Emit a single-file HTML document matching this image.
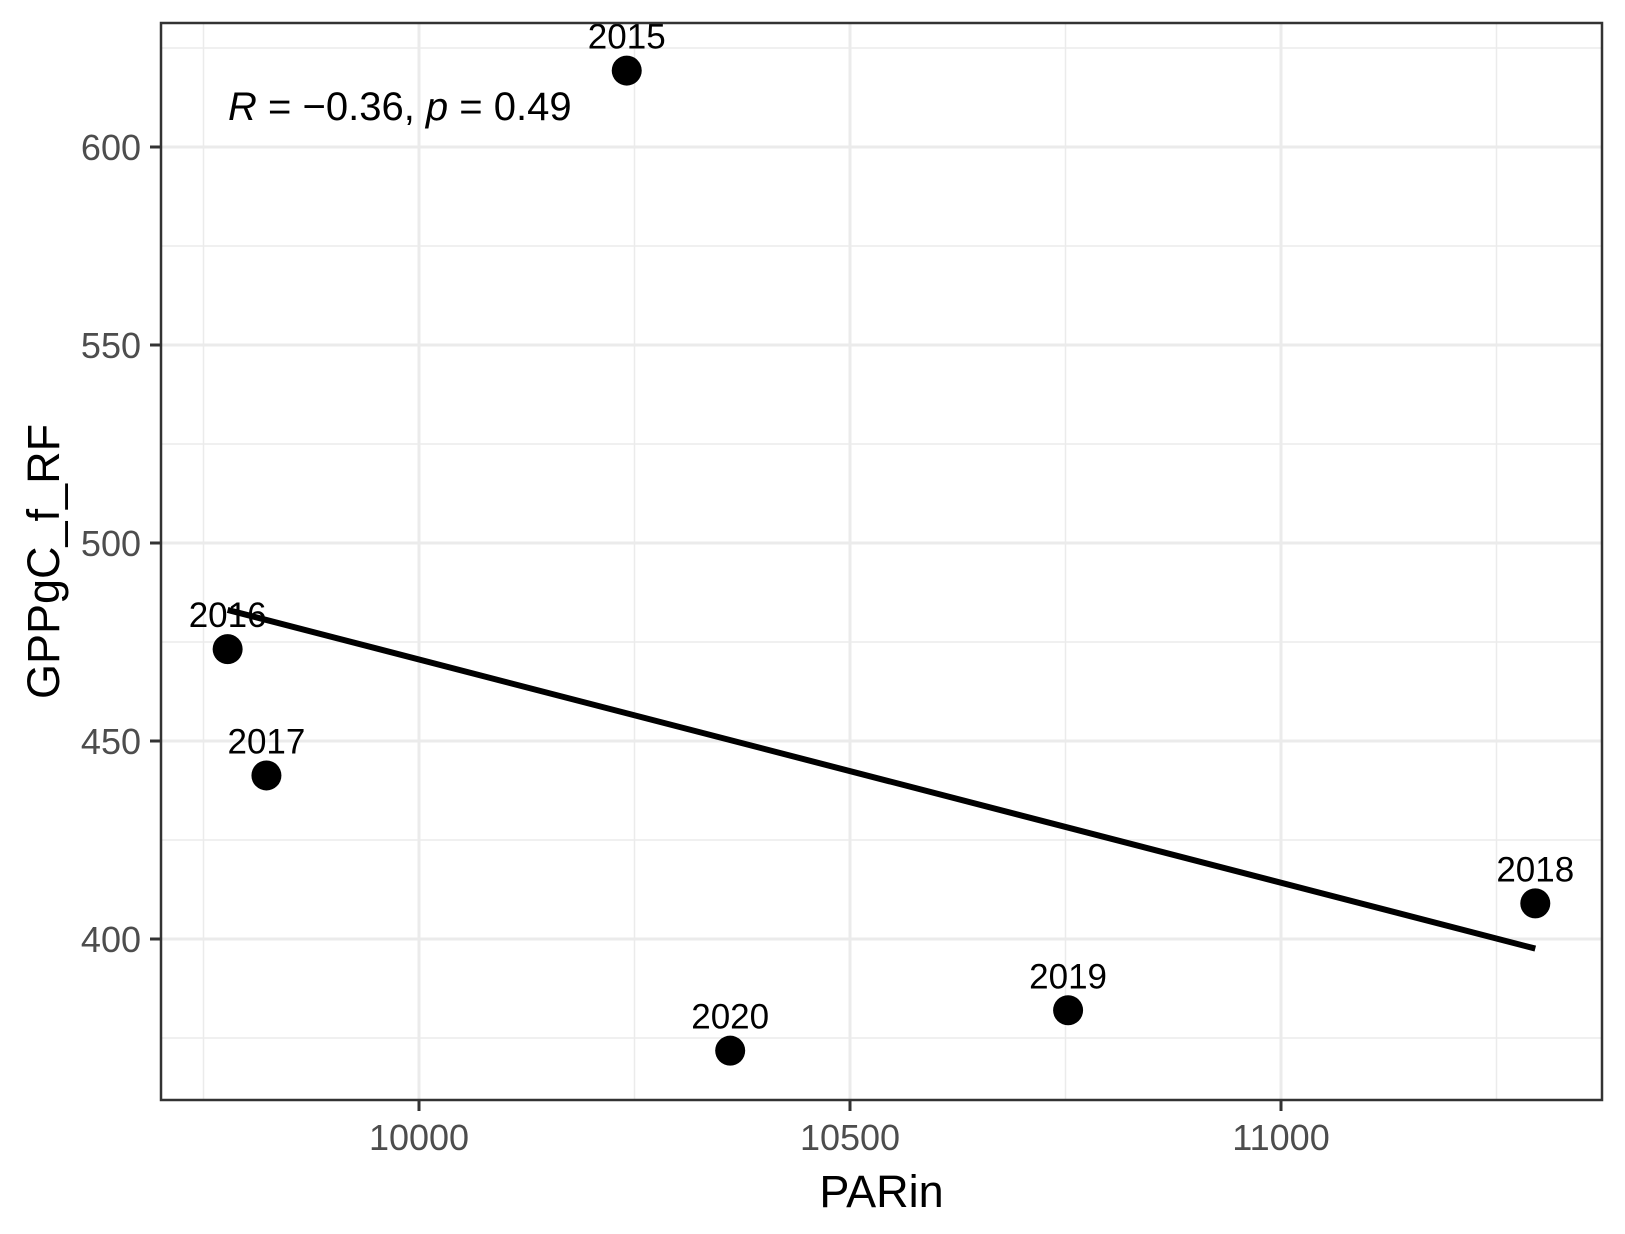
<!DOCTYPE html>
<html><head><meta charset="utf-8"><style>
html,body{margin:0;padding:0;background:#fff;}
svg{display:block;font-family:"Liberation Sans",Arial,sans-serif;}
</style></head><body>
<svg id="chart" width="1625" height="1234" viewBox="0 0 1625 1234" xmlns="http://www.w3.org/2000/svg"></svg>
<script>
const years = ["2015","2016","2017","2018","2019","2020"];
const parIn = [10241, 9778, 9823, 11295, 10753, 10361];
const gpp = [619.3, 473.2, 441.3, 409.0, 382.0, 371.8];
const xTicks = [10000, 10500, 11000];
const xMinor = [9750, 10250, 10750, 11250];
const yTicks = [400, 450, 500, 550, 600];
const yMinor = [375, 425, 475, 525, 575, 625];

const L=161, R=1602, T=23, B=1100;
const xs = v => 419 + (v-10000)*0.862;
const ys = v => 939 - (v-400)*3.96;
const svg = document.getElementById('chart');
const NS='http://www.w3.org/2000/svg';
function mk(tag, attrs, parent){const e=document.createElementNS(NS,tag);for(const k in attrs)e.setAttribute(k,attrs[k]);(parent||svg).appendChild(e);return e;}

const panel = mk('rect',{x:L,y:T,width:R-L,height:B-T,fill:'#fff'});


const grid = mk('g',{});


xMinor.forEach(v=>mk('line',{x1:xs(v),x2:xs(v),y1:T,y2:B,stroke:'#ebebeb','stroke-width':1.5},grid));
yMinor.forEach(v=>{const y=ys(v); if(y>T&&y<B) mk('line',{x1:L,x2:R,y1:y,y2:y,stroke:'#ebebeb','stroke-width':1.5},grid);});
xTicks.forEach(v=>mk('line',{x1:xs(v),x2:xs(v),y1:T,y2:B,stroke:'#ebebeb','stroke-width':3},grid));
yTicks.forEach(v=>mk('line',{x1:L,x2:R,y1:ys(v),y2:ys(v),stroke:'#ebebeb','stroke-width':3},grid));

const n=parIn.length;
const mx=parIn.reduce((a,b)=>a+b)/n, my=gpp.reduce((a,b)=>a+b)/n;
let sxy=0,sxx=0;for(let i=0;i<n;i++){sxy+=(parIn[i]-mx)*(gpp[i]-my);sxx+=(parIn[i]-mx)**2;}
const slope=sxy/sxx, icpt=my-slope*mx;
const x0=Math.min(...parIn), x1=Math.max(...parIn);
const reg = mk('line',{x1:xs(x0),y1:ys(icpt+slope*x0),x2:xs(x1),y2:ys(icpt+slope*x1),stroke:'#000','stroke-width':6});



for(let i=0;i<n;i++){
  const c = mk('circle',{cx:xs(parIn[i]),cy:ys(gpp[i]),r:15,fill:'#000'});
  
  
  const t = mk('text',{x:xs(parIn[i]),y:ys(gpp[i])-22,'text-anchor':'middle','font-size':35,fill:'#000'});
  t.textContent=years[i];
  
  
}

const border = mk('rect',{x:L,y:T,width:R-L,height:B-T,fill:'none',stroke:'#333','stroke-width':2.5});



xTicks.forEach(v=>{
  const tk=mk('line',{x1:xs(v),x2:xs(v),y1:B,y2:B+11,stroke:'#333','stroke-width':3});
  
  
  const t=mk('text',{x:xs(v),y:1150,'text-anchor':'middle','font-size':36,fill:'#4d4d4d'});
  t.textContent=v;
  
  
});
yTicks.forEach(v=>{
  const tk=mk('line',{x1:L-11,x2:L,y1:ys(v),y2:ys(v),stroke:'#333','stroke-width':3});
  
  
  const t=mk('text',{x:L-20,y:ys(v)+13,'text-anchor':'end','font-size':36,fill:'#4d4d4d'});
  t.textContent=v;
  
  
});
const xt=mk('text',{x:(L+R)/2,y:1207,'text-anchor':'middle','font-size':45,fill:'#000'});
xt.textContent='PARin';


const yt=mk('text',{x:0,y:0,'text-anchor':'middle','font-size':45,fill:'#000',transform:`translate(59,${(T+B)/2}) rotate(-90)`});
yt.textContent='GPPgC_f_RF';



const ann=mk('text',{x:228,y:120,'font-size':40,fill:'#000'});


ann.innerHTML='<tspan font-style="italic">R</tspan> = \u22120.36, <tspan font-style="italic">p</tspan> = 0.49';
</script>
</body></html>
